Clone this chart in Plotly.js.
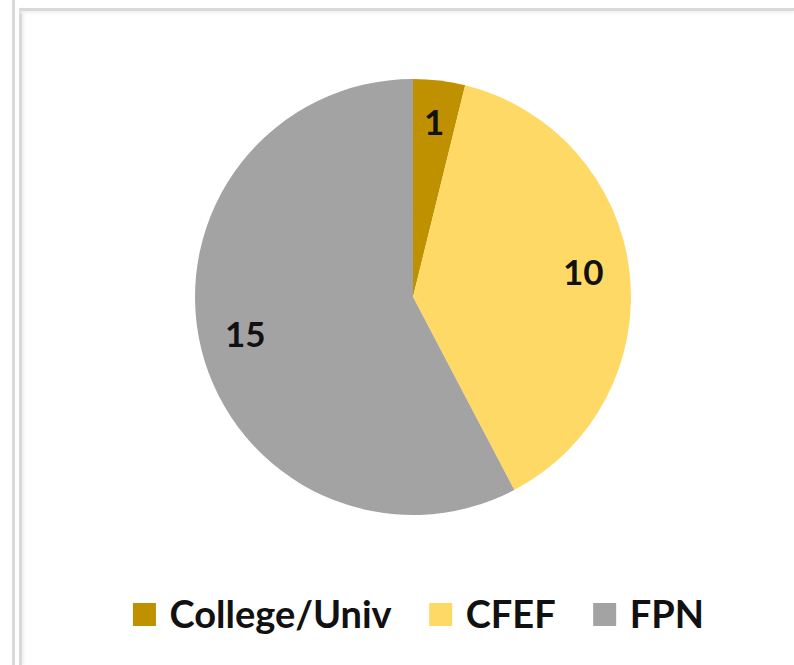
<!DOCTYPE html>
<html>
<head>
<meta charset="utf-8">
<script src="https://cdn.plot.ly/plotly-3.0.1.min.js"></script>
<style>
  html, body { margin: 0; padding: 0; background: #fff; }
  #wrap { position: relative; width: 794px; height: 665px; overflow: hidden; }
  #chart { position: absolute; left: 0; top: 0; width: 794px; height: 665px; }
  .fr { position: absolute; background: #d9d9d9; pointer-events: none; }
</style>
</head>
<body>
<div id="wrap">
  <div id="chart"></div>
  <div class="fr" style="left:12px; top:0; width:3px; height:665px;"></div>
  <div class="fr" style="left:19px; top:8px; width:3px; height:657px; box-shadow: 2px 0 3px #eee;"></div>
  <div class="fr" style="left:19px; top:8px; width:775px; height:3px; box-shadow: 0 2px 3px #eee;"></div>
</div>
<script>
const categories = ["College/Univ", "CFEF", "FPN"];
const values = [1, 10, 15];
const colors = ["#BF9000", "#FFD966", "#A3A3A3"];

const W = 794, H = 665;
const domX = [0.2456, 0.7947], domY = [0.2256, 0.8812];
const FONT = "Lato, 'Open Sans', sans-serif";

// label annotations placed at each slice's mid-angle (computed from the values)
const total = values.reduce((a, b) => a + b, 0);
const cxPx = (domX[0] + domX[1]) / 2 * W;
const cyPx = (domY[0] + domY[1]) / 2 * H;
const rPx = Math.min((domX[1] - domX[0]) * W, (domY[1] - domY[0]) * H) / 2;
const labelR = 0.79 * rPx;
let cum = 0;
const annotations = values.map(function (v) {
  const mid = (cum + v / 2) / total * 2 * Math.PI;
  cum += v;
  const px = cxPx + labelR * Math.sin(mid);
  const py = cyPx + labelR * Math.cos(mid); // y measured from bottom
  return {
    xref: "paper", yref: "paper",
    x: px / W, y: py / H,
    xanchor: "center", yanchor: "middle",
    text: String(v), showarrow: false,
    yshift: 5,
    font: { family: FONT, size: 35, color: "#111", weight: "bold" }
  };
});

const trace = {
  type: "pie",
  labels: categories,
  values: values,
  textinfo: "none",
  sort: false,
  direction: "clockwise",
  rotation: 0,
  marker: { colors: colors, line: { width: 0 } },
  hoverinfo: "label+value",
  domain: { x: domX, y: domY }
};

const layout = {
  width: W,
  height: H,
  margin: { l: 0, r: 0, t: 0, b: 0 },
  paper_bgcolor: "rgba(0,0,0,0)",
  plot_bgcolor: "rgba(0,0,0,0)",
  showlegend: true,
  annotations: annotations,
  legend: {
    orientation: "h",
    x: 0.51, xanchor: "center",
    y: 0.077, yanchor: "middle",
    itemwidth: 59,
    font: { family: FONT, size: 38, color: "#111", weight: "bold" },
    itemclick: false, itemdoubleclick: false
  }
};

Plotly.newPlot("chart", [trace], layout, { displayModeBar: false, staticPlot: true }).then(function (gd) {
  gd.querySelectorAll(".legend .traces").forEach(function (g) {
    const txt = g.querySelector("text.legendtext");
    const p = g.querySelector(".legendpoints path");
    if (!txt || !p) return;
    const tx = parseFloat(txt.getAttribute("x")) || 40;
    p.setAttribute("d", "M11.5,11.5H-11.5V-11.5H11.5Z");
    p.setAttribute("transform", "translate(" + (tx - 25) + ",1)");
  });
});
</script>
</body>
</html>
